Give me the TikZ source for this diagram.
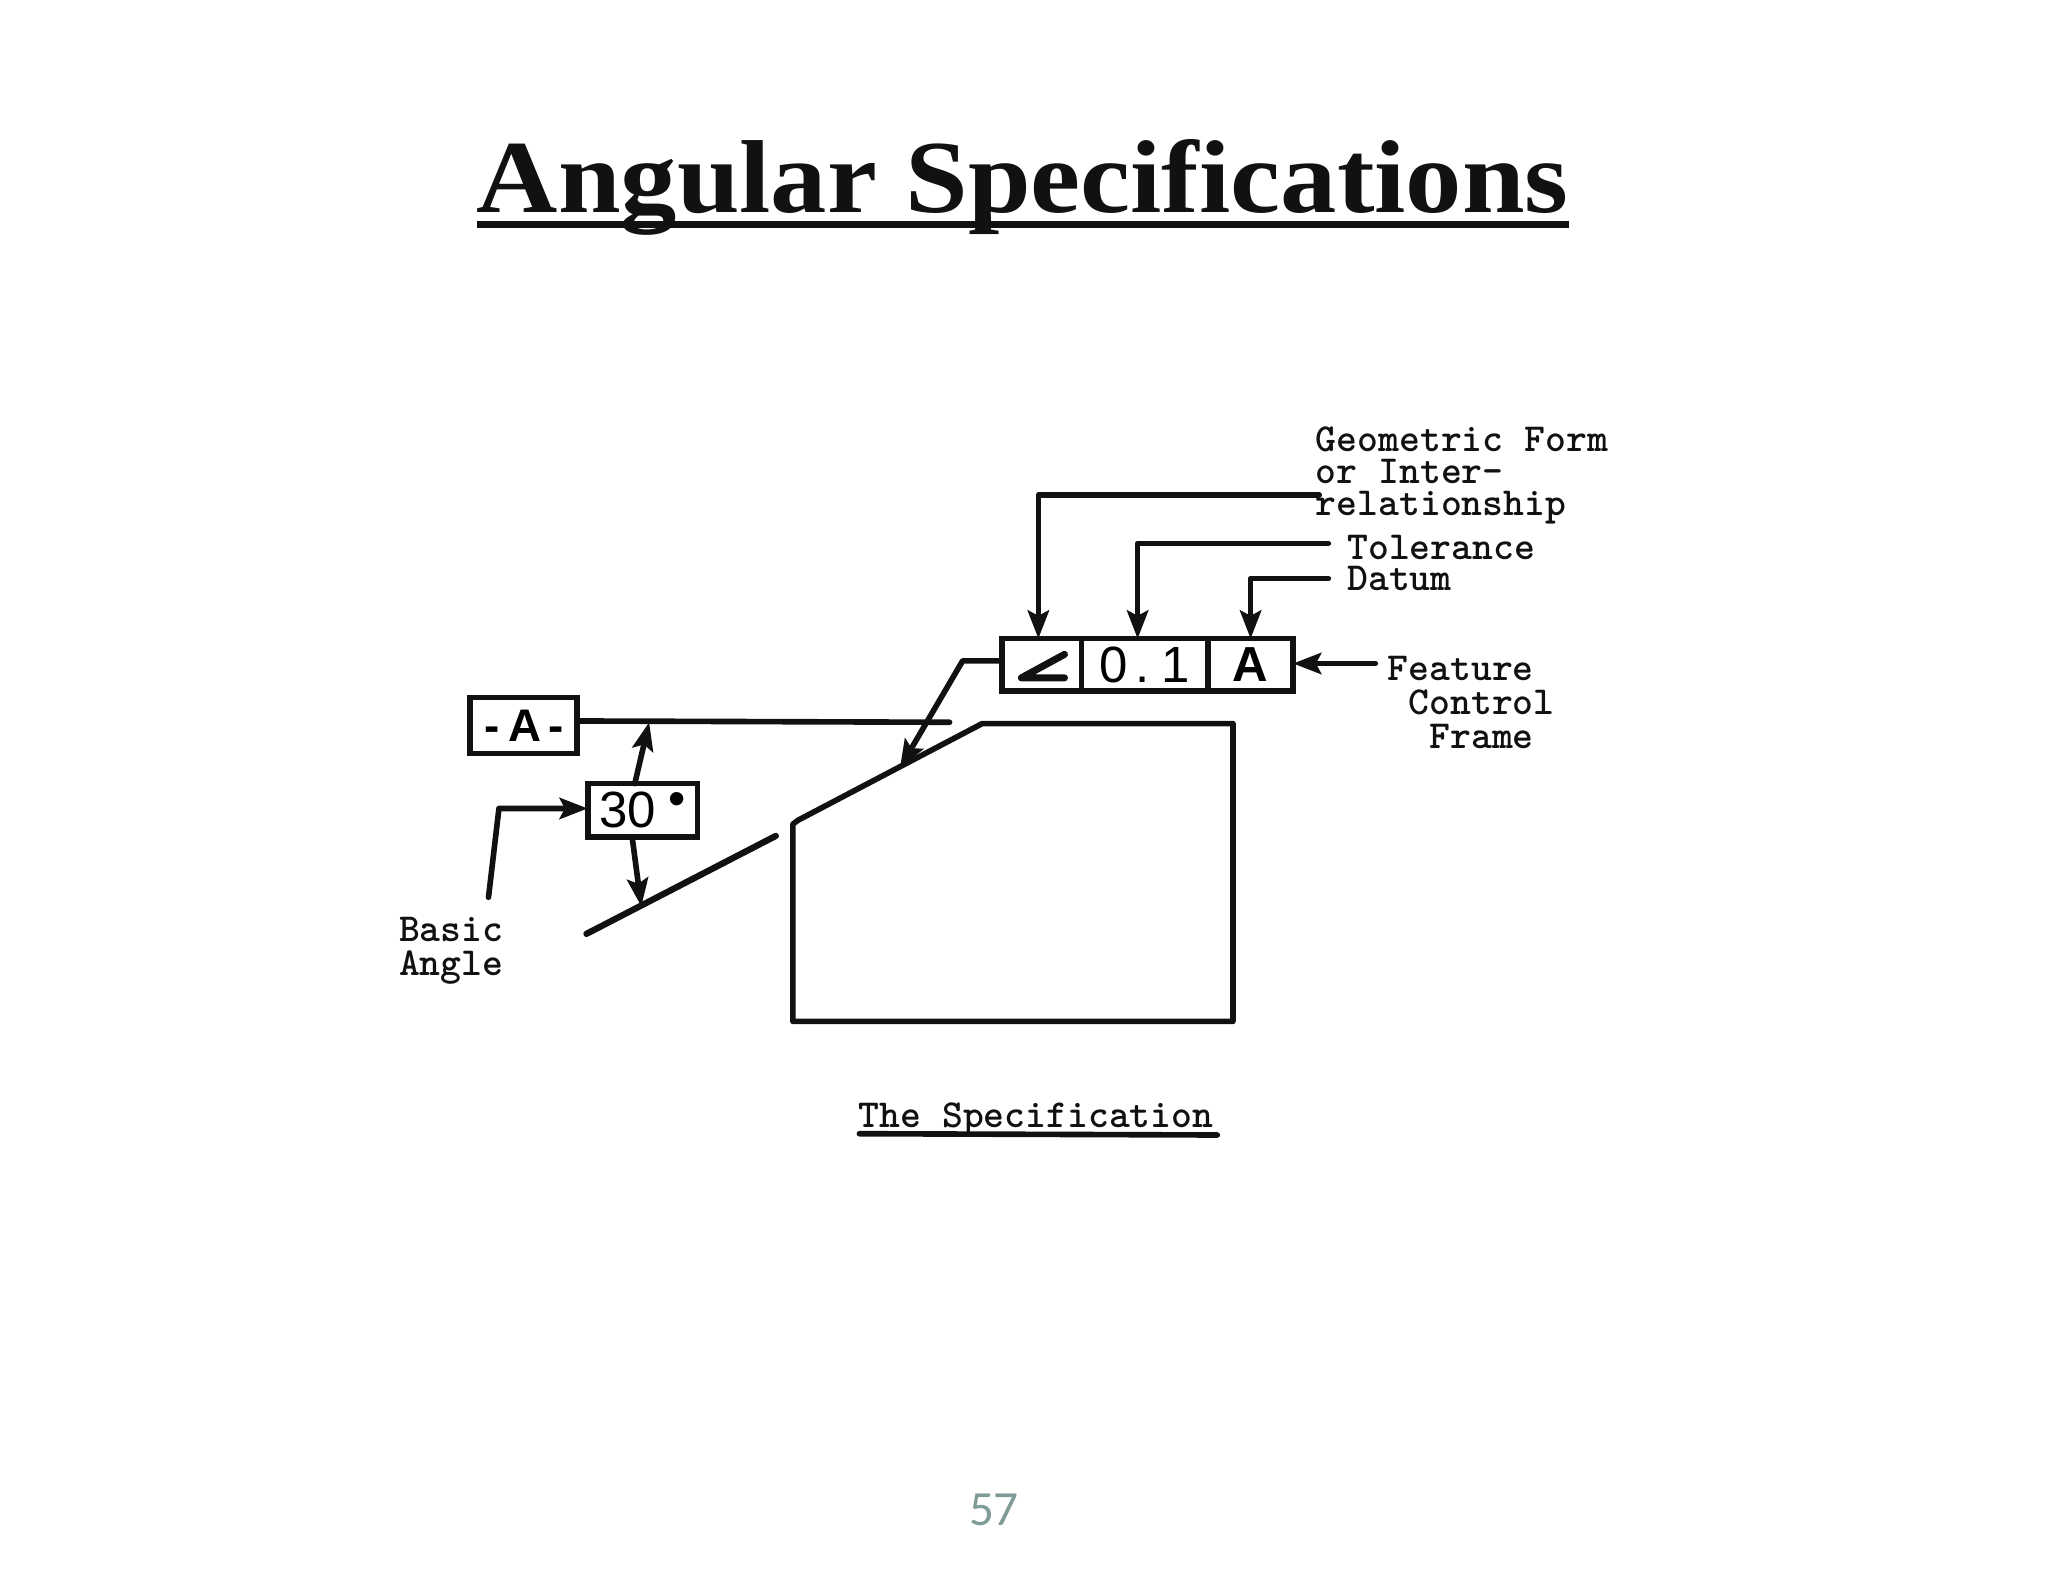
\documentclass[tikz,border=0pt]{standalone}
\usepackage{fontspec}
\setmainfont{Liberation Sans}
\newfontfamily\titlefont{Liberation Serif}
\newfontfamily\pagefont{Carlito}
\usetikzlibrary{arrows.meta}
\definecolor{inkblack}{HTML}{111111}
\definecolor{pagegray}{HTML}{7F9C99}
\def\un{0.3716pt}
\tikzset{
	cellbox/.style={draw=inkblack, line width=1.6pt, inner sep=0pt, outer sep=0pt, minimum height=40*\un, font=\fontsize{14.5}{14.5}\selectfont},
	leader/.style={draw=inkblack, line width=1.6pt, line join=round, line cap=round},
	arrowed/.style={leader, -{Stealth[length=8pt,width=6pt,inset=1.5pt]}},
	typed/.style={inner sep=0pt, anchor=north west, align=left, text=inkblack, font=\fontsize{11.3}{9.6}\selectfont\ttfamily\bfseries},
}
\begin{document}
\begin{tikzpicture}[x=0.013061cm, y=-0.013061cm]
	\useasboundingbox (0,0) rectangle (1568,1211.2);
	% title and page number
	\node (title) at (783,163) [anchor=base, xscale=1.086, transform shape, text=inkblack, inner sep=0pt, font=\fontsize{29.5}{29.5}\selectfont\titlefont\bfseries] {Angular Specifications};
	\coordinate (titleA) at (365,172);
	\coordinate (titleB) at (1201,172);
	\draw[inkblack, line width=1.9pt] (titleA) -- (titleB);
	\node (pagenum) at (761,1156) [text=pagegray, inner sep=0pt, font=\fontsize{14}{14}\selectfont\pagefont] {57};
	% the part
	\draw[leader, line width=1.6pt] (611,628) -- (752,554) -- (944,554) -- (944,782) -- (607,782) -- (607,631) -- cycle;
	\coordinate (slopeA) at (449,715);
	\coordinate (slopeB) at (594,640);
	\draw[leader, line width=1.8pt] (slopeA) -- (slopeB);
	% feature control frame
	\node[cellbox, minimum width=61*\un] (cellang) at (797.5,509) {};
	\node[cellbox, minimum width=97*\un] (cellval) at (876.5,509) {0\hspace{2pt}.\hspace{3.5pt}1};
	\node[cellbox, minimum width=65*\un, font=\fontsize{14}{14}\selectfont\bfseries] (celldat) at (957.5,509) {A};
	\draw[inkblack, line width=2pt, line cap=round, line join=round] (815,501) -- (782,519) -- (815,519);
	% datum and basic angle
	\node[cellbox, minimum width=82*\un, minimum height=43*\un, font=\fontsize{13}{13}\selectfont\bfseries] (datumbox) at (401,555.5) {-\hspace{2.5pt}A\hspace{2pt}-\hspace{2pt}};
	\node[cellbox, minimum width=84*\un, minimum height=41*\un] (basicbox) at (492,620.5) {30\hspace{3.5pt}\raisebox{3.5pt}{\fontsize{14}{14}\selectfont •}\hspace{5.4pt}};
	\coordinate (datumend) at (727,553);
	\draw[leader] (datumbox.east |- 0,552) -- (datumend);
	\coordinate (upstart) at (486,600);
	\coordinate (uphit) at (497,553);
	\coordinate (downstart) at (484,641);
	\coordinate (downhit) at (491,694);
	\draw[arrowed] (upstart) -- (uphit);
	\draw[arrowed] (downstart) -- (downhit);
	% labels
	\node[typed] (geolabel) at (1007,326) {Geometric Form\\[-0.5pt]or Inter-\\[-0.5pt]relationship};
	\node[typed] (tollabel) at (1031,409) {Tolerance};
	\node[typed] (datlabel) at (1031,433) {Datum};
	\node[typed] (framelabel) at (1062,502) {Feature\\~Control\\~~Frame};
	\node[typed] (basiclabel) at (305,702) {Basic\\Angle};
	\node[typed] (caption) at (657,844) {The Specification};
	\coordinate (capA) at (658,868);
	\coordinate (capB) at (932,869);
	\draw[leader] (capA) -- (capB);
	% leaders to the frame
	\coordinate (geoend) at (1010,379);
	\coordinate (tolend) at (1017,416);
	\coordinate (datend) at (1017,443);
	\coordinate (frameend) at (1053,508);
	\coordinate (tolin) at (871,489);
	\coordinate (angin) at (795,489);
	\draw[arrowed] (geoend) -| (angin);
	\draw[arrowed] (tolend) -| (tolin);
	\draw[arrowed] (datend) -| (celldat.north);
	\draw[arrowed] (frameend) -- (celldat.east |- frameend);
	\coordinate (elbowA) at (737,506);
	\coordinate (elbowhit) at (689,588);
	\draw[arrowed] (cellang.west |- elbowA) -- (elbowA) -- (elbowhit);
	\coordinate (basicA) at (374,687);
	\coordinate (basicB) at (382,619);
	\draw[arrowed] (basicA) -- (basicB) -- (basicbox.west |- basicB);
\end{tikzpicture}
\end{document}
